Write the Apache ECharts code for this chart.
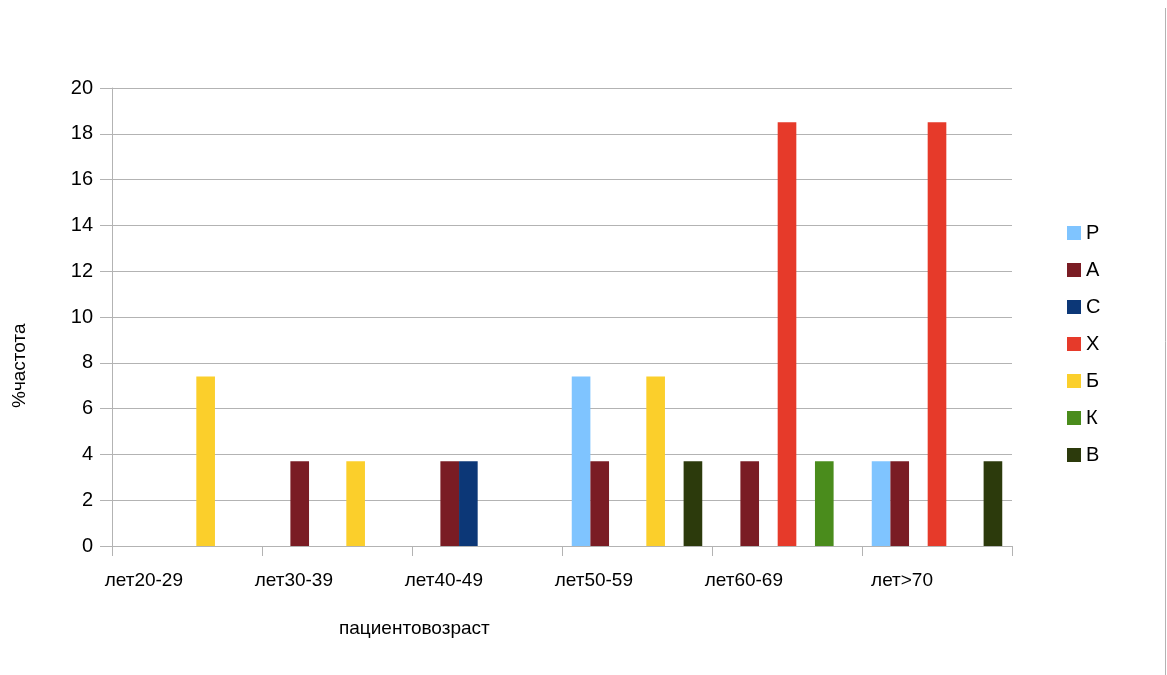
<!DOCTYPE html>
<html>
<head>
<meta charset="utf-8">
<script src="https://cdn.jsdelivr.net/npm/echarts@6/dist/echarts.min.js"></script>
<style>
html,body{margin:0;padding:0;background:#fff;}
#chart{width:1167px;height:675px;}
</style>
</head>
<body>
<div id="chart"></div>
<script>
var categories = ['лет20-29', 'лет30-39', 'лет40-49', 'лет50-59', 'лет60-69', 'лет>70'];
var seriesNames = ['Р', 'А', 'С', 'Х', 'Б', 'К', 'В'];
var seriesColors = ['#7fc4ff', '#7a1c24', '#0c3777', '#e63a2a', '#fbcf2b', '#4a8c1c', '#2c3a0c'];
var s1 = [0, 0, 0, 7.4, 0, 3.7];
var s2 = [0, 3.7, 3.7, 3.7, 3.7, 3.7];
var s3 = [0, 0, 3.7, 0, 0, 0];
var s4 = [0, 0, 0, 0, 18.5, 18.5];
var s5 = [7.4, 3.7, 0, 7.4, 0, 0];
var s6 = [0, 0, 0, 0, 3.7, 0];
var s7 = [0, 0, 0, 3.7, 0, 3.7];
var seriesValues = [s1, s2, s3, s4, s5, s6, s7];
var yTicks = {min: 0, max: 20, interval: 2};
var xTitle = 'пациентовозраст';
var yTitle = '%частота';

var font = '"Liberation Sans", Arial, sans-serif';
var chart = echarts.init(document.getElementById('chart'));
var series = seriesNames.map(function (n, i) {
  return {
    name: n,
    type: 'bar',
    data: seriesValues[i],
    barGap: '0%',
    barCategoryGap: '13%',
    itemStyle: {color: seriesColors[i]},
    animation: false
  };
});
chart.setOption({
  animation: false,
  textStyle: {fontFamily: font},
  grid: {left: 112, right: 155, top: 88, bottom: 129, containLabel: false},
  legend: {
    orient: 'vertical',
    left: 1062,
    top: 218,
    itemWidth: 14,
    itemHeight: 14,
    itemGap: 17,
    icon: 'rect',
    textStyle: {fontSize: 20, color: '#000', fontFamily: font},
    data: seriesNames
  },
  xAxis: {
    type: 'category',
    data: categories,
    axisLine: {lineStyle: {color: '#b3b3b3', width: 1}},
    axisTick: {show: true, length: 10, lineStyle: {color: '#b3b3b3'}},
    axisLabel: {fontSize: 19, color: '#000', align: 'right', margin: 25, padding: [0, 4, 0, 0], fontFamily: font}
  },
  yAxis: {
    type: 'value',
    min: yTicks.min,
    max: yTicks.max,
    interval: yTicks.interval,
    axisLine: {show: true, lineStyle: {color: '#b3b3b3'}},
    axisTick: {show: true, length: 12, lineStyle: {color: '#b3b3b3'}},
    splitLine: {lineStyle: {color: '#b3b3b3', width: 1}},
    axisLabel: {fontSize: 20, color: '#000', margin: 19, fontFamily: font}
  },
  graphic: [
    {type: 'text', left: 339, top: 619, style: {text: xTitle, fontSize: 19, fill: '#000', fontFamily: font}},
    {type: 'text', x: 10, y: 408, rotation: Math.PI / 2, style: {text: yTitle, fontSize: 19, fill: '#000', fontFamily: font}},
    {type: 'line', shape: {x1: 1165.5, y1: 8, x2: 1165.5, y2: 675}, style: {stroke: '#b3b3b3', lineWidth: 1}}
  ],
  series: series
});
</script>
</body>
</html>
